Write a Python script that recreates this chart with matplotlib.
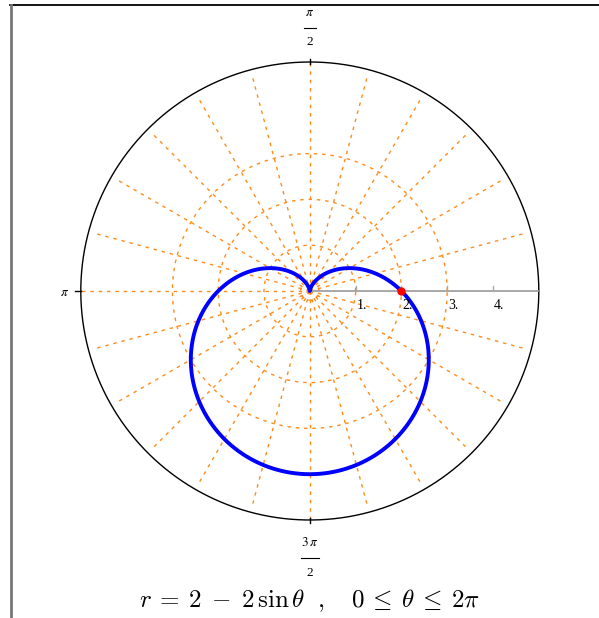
import numpy as np
import matplotlib.pyplot as plt

plt.rcParams["mathtext.fontset"] = "stix"

# cardioid r = 2 - 2 sin(theta)
theta = np.linspace(0, 2 * np.pi, 721)
r = 2 - 2 * np.sin(theta)

start_point = (0.0, 2.0)          # (theta, r) at theta = 0
grid_radii = [0.2, 1, 2, 3]
spoke_angles_deg = list(range(0, 360, 15))
tick_values = [1, 2, 3, 4]
tick_labels = ["1.", "2.", "3.", "4."]
r_max = 5

orange = "#ff8c1a"
dots = (0, (2.5, 3.5))
unit = 45.8          # pixels per unit radius
cx, cy = 309.8, 291  # pixel position of the pole
W, H = 599, 618


def py(p):
    # pixel row -> data y
    return (cy - p) / unit


fig = plt.figure(figsize=(W / 100, H / 100), dpi=100)
ax = fig.add_axes([0, 0, 1, 1])
ax.set_xlim(-cx / unit, (W - cx) / unit)
ax.set_ylim(-(H - cy) / unit, cy / unit)
ax.axis("off")

# frame edges
fig.add_artist(plt.Line2D([10 / W, 1], [1 - 5 / H, 1 - 5 / H], color="black", lw=1.3))
fig.add_artist(plt.Line2D([10.5 / W, 10.5 / W], [0, 1 - 5 / H], color="#777777", lw=2))

# grid circles
t = np.linspace(0, 2 * np.pi, 400)
for g in grid_radii:
    ax.plot(g * np.cos(t), g * np.sin(t), color=orange, lw=1, ls=dots)

# spokes
for a in spoke_angles_deg:
    if a == 0:
        continue
    rr = r_max if a % 90 == 0 else 4.9
    ar = np.radians(a)
    ax.plot([0, rr * np.cos(ar)], [0, rr * np.sin(ar)], color=orange, lw=1, ls=dots)

# outer boundary
ax.plot(r_max * np.cos(t), r_max * np.sin(t), color="black", lw=1)

# radial axis along theta = 0
ax.plot([0, r_max], [0, 0], color="#999999", lw=1.2)
for v, lab in zip(tick_values, tick_labels):
    ax.plot([v, v], [0, 0.12], color="#aaaaaa", lw=1)
    ax.text(v + 0.02, -0.17, lab, family="Liberation Serif", fontsize=10,
            ha="left", va="top")

# angle ticks on boundary
ax.plot([0, 0], [r_max - 0.05, r_max + 0.07], color="black", lw=1)
ax.plot([0, 0], [-r_max + 0.05, -r_max - 0.07], color="black", lw=1)
ax.plot([-r_max - 0.12, -r_max], [0, 0], color="black", lw=1)

# angle labels
ax.text(-r_max - 0.35, -0.03, r"$\pi$", fontsize=9.5, ha="center", va="center")
ax.text(0, py(13), r"$\pi$", fontsize=9.5, ha="center", va="center")
ax.plot([-0.13, 0.13], [py(27.5), py(27.5)], color="black", lw=0.8)
ax.text(0, py(42), "2", family="Liberation Serif", fontsize=9.5, ha="center", va="center")
ax.text(0, py(542), r"$3\,\pi$", fontsize=9.5, ha="center", va="center")
ax.plot([-0.2, 0.2], [py(557.5), py(557.5)], color="black", lw=0.8)
ax.text(0, py(573), "2", family="Liberation Serif", fontsize=9.5, ha="center", va="center")

# curve and starting point
ax.plot(r * np.cos(theta), r * np.sin(theta), color="blue", lw=2.8)
ax.plot(start_point[1] * np.cos(start_point[0]), start_point[1] * np.sin(start_point[0]),
        "o", color="red", ms=5)

ax.text(0, py(601),
        r"$r\:=\:2\;-\;2\,\sin\theta\ \ ,\ \ \ 0\:\leq\:\theta\:\leq\:2\pi$",
        fontsize=18, ha="center", va="center", math_fontfamily="cm")

fig.savefig("out.png", dpi=100)
